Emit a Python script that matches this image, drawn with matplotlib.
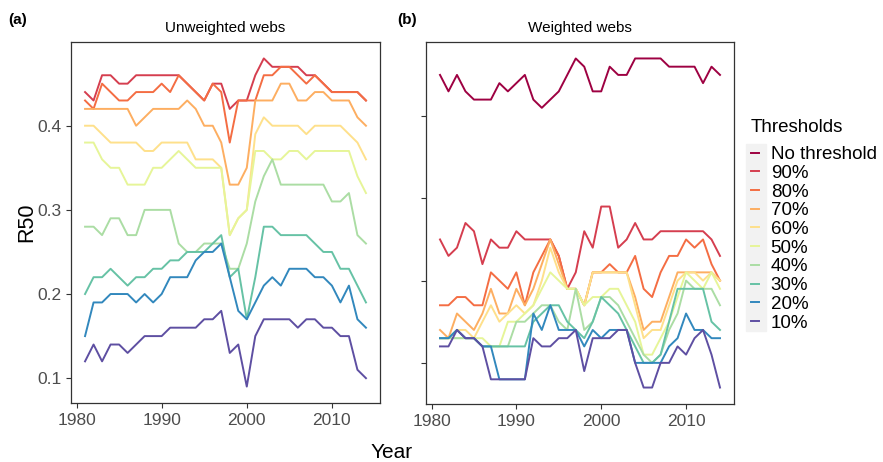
import matplotlib
matplotlib.use("Agg")
import matplotlib.pyplot as plt
from matplotlib.patches import Rectangle

plt.rcParams['font.family'] = ['Liberation Sans', 'DejaVu Sans']

years = list(range(1981, 2015))

labels = ["No threshold", "90%", "80%", "70%", "60%", "50%", "40%", "30%", "20%", "10%"]
colors = ["#9E0142", "#D53E4F", "#F46D43", "#FDAE61", "#FEE08B",
          "#E6F598", "#ABDDA4", "#66C2A5", "#3288BD", "#5E4FA2"]

# (a) unweighted webs, R50 per threshold
unw_90 = [0.44, 0.43, 0.46, 0.46, 0.45, 0.45, 0.46, 0.46, 0.46, 0.46,
          0.46, 0.46, 0.45, 0.44, 0.43, 0.45, 0.45, 0.42, 0.43, 0.43,
          0.46, 0.48, 0.47, 0.47, 0.47, 0.47, 0.46, 0.46, 0.45, 0.44,
          0.44, 0.44, 0.44, 0.43]
unw_80 = [0.43, 0.42, 0.45, 0.44, 0.43, 0.43, 0.44, 0.44, 0.44, 0.45,
          0.44, 0.46, 0.45, 0.44, 0.43, 0.45, 0.44, 0.38, 0.43, 0.43,
          0.43, 0.46, 0.46, 0.47, 0.47, 0.46, 0.45, 0.46, 0.45, 0.44,
          0.44, 0.44, 0.44, 0.43]
unw_70 = [0.42, 0.42, 0.42, 0.42, 0.42, 0.42, 0.40, 0.41, 0.42, 0.42,
          0.42, 0.42, 0.43, 0.42, 0.40, 0.40, 0.38, 0.33, 0.33, 0.35,
          0.43, 0.43, 0.43, 0.45, 0.45, 0.43, 0.43, 0.44, 0.44, 0.43,
          0.43, 0.43, 0.41, 0.40]
unw_60 = [0.40, 0.40, 0.39, 0.38, 0.38, 0.38, 0.38, 0.37, 0.37, 0.38,
          0.38, 0.38, 0.38, 0.36, 0.36, 0.36, 0.35, 0.27, 0.29, 0.30,
          0.39, 0.41, 0.40, 0.40, 0.40, 0.40, 0.39, 0.40, 0.40, 0.40,
          0.40, 0.39, 0.38, 0.36]
unw_50 = [0.38, 0.38, 0.36, 0.35, 0.35, 0.33, 0.33, 0.33, 0.35, 0.35,
          0.36, 0.37, 0.36, 0.35, 0.35, 0.35, 0.35, 0.27, 0.29, 0.30,
          0.37, 0.37, 0.36, 0.36, 0.37, 0.37, 0.36, 0.37, 0.37, 0.37,
          0.37, 0.37, 0.34, 0.32]
unw_40 = [0.28, 0.28, 0.27, 0.29, 0.29, 0.27, 0.27, 0.30, 0.30, 0.30,
          0.30, 0.26, 0.25, 0.25, 0.26, 0.26, 0.26, 0.23, 0.23, 0.26,
          0.31, 0.34, 0.36, 0.33, 0.33, 0.33, 0.33, 0.33, 0.33, 0.31,
          0.31, 0.32, 0.27, 0.26]
unw_30 = [0.20, 0.22, 0.22, 0.23, 0.22, 0.21, 0.22, 0.22, 0.23, 0.23,
          0.24, 0.24, 0.25, 0.25, 0.25, 0.26, 0.27, 0.22, 0.23, 0.17,
          0.22, 0.28, 0.28, 0.27, 0.27, 0.27, 0.27, 0.26, 0.25, 0.25,
          0.23, 0.23, 0.21, 0.19]
unw_20 = [0.15, 0.19, 0.19, 0.20, 0.20, 0.20, 0.19, 0.20, 0.19, 0.20,
          0.22, 0.22, 0.22, 0.24, 0.25, 0.25, 0.26, 0.22, 0.18, 0.17,
          0.19, 0.21, 0.22, 0.21, 0.23, 0.23, 0.23, 0.22, 0.22, 0.21,
          0.19, 0.21, 0.17, 0.16]
unw_10 = [0.12, 0.14, 0.12, 0.14, 0.14, 0.13, 0.14, 0.15, 0.15, 0.15,
          0.16, 0.16, 0.16, 0.16, 0.17, 0.17, 0.18, 0.13, 0.14, 0.09,
          0.15, 0.17, 0.17, 0.17, 0.17, 0.16, 0.17, 0.17, 0.16, 0.16,
          0.15, 0.15, 0.11, 0.10]

# (b) weighted webs
w_none = [0.45, 0.43, 0.45, 0.43, 0.42, 0.42, 0.42, 0.44, 0.43, 0.44,
          0.45, 0.42, 0.41, 0.42, 0.43, 0.45, 0.47, 0.46, 0.43, 0.43,
          0.46, 0.45, 0.45, 0.47, 0.47, 0.47, 0.47, 0.46, 0.46, 0.46,
          0.46, 0.44, 0.46, 0.45]
w_90 = [0.25, 0.23, 0.24, 0.27, 0.26, 0.22, 0.25, 0.24, 0.24, 0.26,
        0.25, 0.25, 0.25, 0.25, 0.23, 0.19, 0.21, 0.26, 0.24, 0.29,
        0.29, 0.24, 0.25, 0.27, 0.25, 0.25, 0.26, 0.26, 0.26, 0.26,
        0.26, 0.26, 0.25, 0.23]
w_80 = [0.17, 0.17, 0.18, 0.18, 0.17, 0.17, 0.21, 0.20, 0.19, 0.21,
        0.17, 0.21, 0.23, 0.25, 0.23, 0.19, 0.19, 0.17, 0.21, 0.21,
        0.22, 0.21, 0.21, 0.23, 0.19, 0.18, 0.21, 0.23, 0.23, 0.25,
        0.24, 0.25, 0.22, 0.20]
w_70 = [0.14, 0.13, 0.16, 0.15, 0.14, 0.16, 0.19, 0.16, 0.16, 0.19,
        0.17, 0.19, 0.22, 0.25, 0.22, 0.19, 0.19, 0.17, 0.21, 0.21,
        0.21, 0.21, 0.21, 0.18, 0.14, 0.15, 0.15, 0.18, 0.21, 0.21,
        0.21, 0.21, 0.21, 0.20]
w_60 = [0.13, 0.13, 0.14, 0.14, 0.13, 0.15, 0.17, 0.15, 0.16, 0.17,
        0.16, 0.17, 0.20, 0.24, 0.21, 0.19, 0.19, 0.17, 0.21, 0.21,
        0.21, 0.21, 0.21, 0.17, 0.13, 0.14, 0.14, 0.17, 0.20, 0.21,
        0.21, 0.20, 0.21, 0.20]
w_50 = [0.13, 0.13, 0.13, 0.13, 0.13, 0.13, 0.12, 0.12, 0.15, 0.15,
        0.16, 0.17, 0.19, 0.21, 0.20, 0.19, 0.19, 0.17, 0.18, 0.18,
        0.19, 0.19, 0.17, 0.15, 0.11, 0.11, 0.13, 0.15, 0.18, 0.21,
        0.20, 0.19, 0.21, 0.19]
w_40 = [0.13, 0.13, 0.13, 0.13, 0.13, 0.12, 0.12, 0.12, 0.12, 0.15,
        0.15, 0.16, 0.17, 0.17, 0.15, 0.14, 0.19, 0.14, 0.15, 0.18,
        0.18, 0.17, 0.15, 0.13, 0.11, 0.10, 0.11, 0.14, 0.16, 0.20,
        0.19, 0.19, 0.19, 0.17]
w_30 = [0.13, 0.13, 0.14, 0.13, 0.13, 0.12, 0.12, 0.12, 0.12, 0.12,
        0.12, 0.15, 0.16, 0.17, 0.17, 0.15, 0.14, 0.13, 0.15, 0.18,
        0.17, 0.16, 0.14, 0.12, 0.10, 0.10, 0.11, 0.15, 0.19, 0.19,
        0.19, 0.19, 0.15, 0.14]
w_20 = [0.13, 0.13, 0.14, 0.13, 0.13, 0.12, 0.12, 0.08, 0.08, 0.08,
        0.08, 0.16, 0.14, 0.17, 0.14, 0.14, 0.14, 0.12, 0.14, 0.13,
        0.14, 0.14, 0.14, 0.10, 0.10, 0.10, 0.10, 0.12, 0.13, 0.16,
        0.14, 0.14, 0.13, 0.13]
w_10 = [0.12, 0.12, 0.14, 0.13, 0.13, 0.12, 0.08, 0.08, 0.08, 0.08,
        0.08, 0.13, 0.12, 0.12, 0.13, 0.13, 0.14, 0.09, 0.13, 0.13,
        0.13, 0.14, 0.14, 0.10, 0.07, 0.07, 0.10, 0.10, 0.12, 0.11,
        0.13, 0.14, 0.11, 0.07]

unweighted = [None, unw_90, unw_80, unw_70, unw_60, unw_50, unw_40, unw_30, unw_20, unw_10]
weighted = [w_none, w_90, w_80, w_70, w_60, w_50, w_40, w_30, w_20, w_10]

fig = plt.figure(figsize=(8.83, 4.62), dpi=100)
ax1 = fig.add_axes([71 / 883, 59 / 462, 309 / 883, 361 / 462])
ax2 = fig.add_axes([426 / 883, 58 / 462, 308 / 883, 362 / 462])

handles = []
for vals, c, lab in zip(unweighted, colors, labels):
    if vals is not None:
        ax1.plot(years, vals, color=c, lw=1.4, label=lab)
for vals, c, lab in zip(weighted, colors, labels):
    h, = ax2.plot(years, vals, color=c, lw=1.4, label=lab)
    handles.append(h)

for ax in (ax1, ax2):
    ax.set_xlim(1979.35, 2015.65)
    ax.set_xticks([1980, 1990, 2000, 2010])
    for s in ax.spines.values():
        s.set_color('#333333')
        s.set_linewidth(0.9)
    ax.tick_params(colors='#333333', labelcolor='#4D4D4D', labelsize=12.5,
                   length=3.5, width=0.8)

ax1.set_ylim(0.0705, 0.4995)
ax1.set_yticks([0.1, 0.2, 0.3, 0.4])
ax1.set_yticklabels(['0.1', '0.2', '0.3', '0.4'])
ax2.set_ylim(0.05, 0.49)
ax2.set_yticks([0.1, 0.2, 0.3, 0.4])
ax2.set_yticklabels([])

ax1.set_title("Unweighted webs", fontsize=11, pad=7)
ax2.set_title("Weighted webs", fontsize=11, pad=7)
fig.text(8 / 883, 1 - 20 / 462, "(a)", fontsize=11, fontweight='bold', va='center')
fig.text(397 / 883, 1 - 20 / 462, "(b)", fontsize=11, fontweight='bold', va='center')
fig.text(27 / 883, 1 - 222 / 462, "R50", fontsize=15.5, rotation=90, va='center', ha='center')
fig.text(392 / 883, 1 - 452 / 462, "Year", fontsize=15, va='center', ha='center')

# legend: title, grey key column, entries
fig.text(751 / 883, 1 - 127 / 462, "Thresholds", fontsize=13.5, va='center', ha='left')
fig.patches.append(Rectangle((746 / 883, 1 - 331 / 462), 20 / 883, 187 / 462,
                             transform=fig.transFigure, color='#F2F2F2', zorder=0))
leg = fig.legend(handles=handles, labels=labels, loc='upper left',
                 bbox_to_anchor=(751 / 883, 1 - 146 / 462), frameon=False,
                 fontsize=13.5, handlelength=0.45, handletextpad=0.6,
                 labelspacing=0.085, borderpad=0, borderaxespad=0)

fig.savefig("out.png", dpi=100)
